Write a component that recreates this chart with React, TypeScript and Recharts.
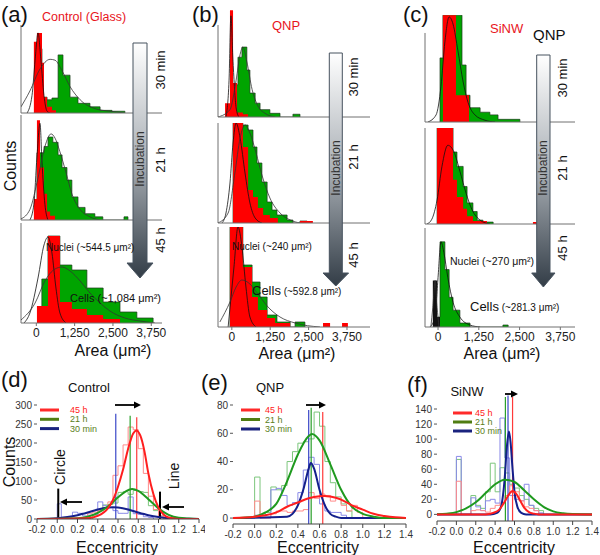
import React from "react";
import { ComposedChart, Area, Line, XAxis, YAxis, ReferenceLine } from "recharts";

type P = [number, number];
const FONT = '"Liberation Sans", Arial, sans-serif';

// ---- top row: cell / nucleus area histograms (area µm², relative counts) ----
const areaTicks = [0, 1250, 2500, 3750];

// (a) control glass
const glass30Red: P[] = [[-80, 0], [-80, 81], [20, 91], [185, 57], [250, 18], [350, 7], [510, 3], [640, 0]];
const glass30Green: P[] = [[20, 0], [20, 73], [185, 18], [350, 15], [510, 17], [710, 66], [870, 43], [1100, 18], [1360, 11], [1750, 7], [2080, 3], [2470, 2], [2890, 0]];
const glass30Fit1: P[] = [[-300, 0], [-140, 20], [-40, 60], [55, 91], [150, 60], [250, 20], [350, 2], [450, 0]];
const glass30Fit2: P[] = [[-500, 7], [-210, 25], [120, 50], [450, 61], [610, 60], [840, 48], [1100, 30], [1430, 15], [1910, 5], [2400, 2], [2890, 0]];

const glass21Red: P[] = [[-80, 0], [-80, 20], [20, 95], [120, 50], [250, 25], [350, 8], [450, 4], [610, 0]];
const glass21Green: P[] = [[20, 0], [20, 64], [250, 70], [380, 79], [540, 74], [710, 62], [840, 50], [1000, 38], [1160, 22], [1360, 12], [1590, 6], [1910, 3], [2170, 0], [2860, 0], [2860, 3], [2990, 0]];
const glass21Fit1: P[] = [[-210, 0], [-80, 15], [20, 60], [120, 92], [185, 55], [280, 15], [380, 0]];
const glass21Fit2: P[] = [[-500, 1], [-210, 10], [55, 40], [280, 70], [480, 82], [610, 78], [770, 65], [970, 45], [1160, 25], [1430, 10], [1750, 3], [2080, 0]];

const glass45Red: P[] = [[20, 0], [20, 17], [380, 87], [770, 21], [1160, 14], [1650, 8], [2180, 4], [2730, 0]];
const glass45Green: P[] = [[180, 0], [180, 44], [380, 87], [770, 58], [1160, 53], [1650, 35], [2180, 21], [2730, 11], [3280, 5], [3810, 0]];
const glass45Fit1: P[] = [[-400, 0], [-210, 10], [55, 45], [250, 78], [380, 86], [510, 70], [640, 35], [770, 10], [970, 0]];
const glass45Fit2: P[] = [[-500, 3], [-40, 20], [280, 42], [610, 54], [840, 56], [1100, 52], [1430, 42], [1750, 30], [2080, 20], [2400, 12], [2890, 5], [3380, 2], [3870, 0]];

// (b) QNP
const qnp30Red: P[] = [[-220, 0], [-220, 15], [-60, 116], [40, 37], [170, 5], [360, 3], [530, 0]];
const qnp30Green: P[] = [[40, 0], [40, 35], [200, 65], [330, 76], [490, 51], [590, 26], [760, 15], [920, 8], [1240, 4], [1570, 0], [1990, 0], [1990, 3], [2220, 0]];
const qnp30Fit1: P[] = [[-190, 0], [-90, 40], [-30, 110], [40, 60], [140, 10], [230, 0]];
const qnp30Fit2: P[] = [[-450, 0], [-60, 8], [140, 40], [270, 68], [360, 76], [490, 60], [660, 30], [850, 12], [1080, 4], [1410, 0]];

const qnp21Red: P[] = [[40, 0], [40, 100], [360, 76], [530, 33], [690, 26], [850, 15], [1020, 8], [1240, 5], [1500, 0], [2220, 0], [2220, 2], [2640, 0]];
const qnp21Green: P[] = [[40, 0], [40, 100], [360, 98], [530, 93], [690, 76], [820, 60], [980, 41], [1150, 21], [1310, 13], [1470, 8], [1800, 3], [1990, 0], [2220, 0], [2220, 2], [2450, 0]];
const qnp21Fit1: P[] = [[-320, 0], [-190, 10], [-60, 40], [40, 80], [140, 100], [270, 85], [430, 50], [590, 20], [760, 5], [980, 0]];
const qnp21Fit2: P[] = [[-450, 0], [-120, 10], [100, 50], [270, 85], [430, 98], [590, 90], [790, 70], [980, 48], [1240, 25], [1570, 10], [1900, 3], [2220, 0]];

const qnp45Red: P[] = [[-60, 0], [-60, 100], [360, 60], [660, 30], [850, 17], [1150, 9], [1410, 4], [1900, 0], [2970, 0], [2970, 4], [3200, 0], [3590, 0], [3590, 4], [3780, 0]];
const qnp45Green: P[] = [[-60, 0], [-60, 100], [360, 62], [660, 45], [920, 30], [1150, 12], [1470, 5], [1900, 0], [2060, 0], [2060, 5], [2380, 0]];
const qnp45Fit1: P[] = [[-120, 0], [70, 60], [200, 100], [330, 80], [460, 40], [590, 10], [790, 0]];
const qnp45Fit2: P[] = [[-390, 5], [-60, 25], [140, 40], [330, 47], [590, 43], [850, 33], [1180, 20], [1570, 10], [2060, 4], [2870, 0]];

// (c) SiNW
const sinw30Red: P[] = [[150, 0], [150, 120], [550, 30], [950, 0]];
const sinw30Green: P[] = [[60, 0], [60, 72], [150, 120], [735, 64], [860, 30], [980, 16], [1290, 11], [1590, 8], [1840, 3], [2510, 0]];
const sinw30Fit: P[] = [[-310, 0], [-60, 8], [90, 40], [210, 90], [340, 118], [460, 110], [610, 80], [770, 45], [920, 22], [1130, 8], [1440, 2], [1750, 0]];

const sinw21Red: P[] = [[-30, 0], [-30, 100], [460, 46], [580, 28], [770, 16], [890, 8], [1070, 3], [1500, 0], [2910, 0], [2910, 2], [3040, 0]];
const sinw21Green: P[] = [[-30, 0], [-30, 100], [460, 75], [580, 60], [770, 39], [890, 22], [1070, 13], [1200, 4], [1380, 2], [1690, 0]];
const sinw21Fit: P[] = [[-340, 0], [-190, 5], [-30, 25], [120, 60], [300, 82], [490, 75], [670, 55], [860, 32], [1040, 15], [1290, 4], [1590, 0]];

const sinw45Nuclei: P[] = [[-160, 0], [-160, 47], [-30, 10], [60, 0]];
const sinw45Green: P[] = [[-30, 0], [-30, 10], [60, 86], [210, 58], [340, 30], [460, 17], [670, 4], [980, 0], [1990, 0], [1990, 2], [2150, 0]];
const sinw45Fit1: P[] = [[-250, 0], [-90, 10], [0, 50], [90, 86], [180, 75], [300, 50], [460, 25], [670, 10], [980, 2], [1290, 0]];
const sinw45Fit2: P[] = [[-220, 0], [-160, 20], [-90, 47], [-30, 20], [30, 0]];

// ---- bottom row: eccentricity ----
const eccTicks = [-0.2, 0, 0.2, 0.4, 0.6, 0.8, 1.0, 1.2, 1.4];

const dHist45: P[] = [[0.3, 0], [0.3, 15], [0.35, 18], [0.4, 22], [0.45, 30], [0.5, 45], [0.55, 115], [0.6, 140], [0.65, 195], [0.7, 242], [0.75, 235], [0.8, 185], [0.85, 120], [0.9, 60], [0.95, 25], [1.0, 8], [1.05, 0]];
const dHist21: P[] = [[0.35, 0], [0.35, 10], [0.4, 25], [0.45, 37], [0.5, 38], [0.55, 42], [0.6, 70], [0.65, 72], [0.7, 65], [0.75, 75], [0.8, 72], [0.85, 70], [0.9, 35], [0.95, 22], [1.0, 8], [1.05, 0]];
const dHist30: P[] = [[0, 0], [0, 40], [0.04, 5], [0.1, 5], [0.15, 18], [0.2, 15], [0.25, 8], [0.3, 10], [0.35, 12], [0.4, 45], [0.45, 35], [0.5, 30], [0.55, 22], [0.6, 15], [0.65, 15], [0.7, 58], [0.75, 14], [0.8, 12], [0.85, 6], [0.9, 4], [0.95, 0]];
const dFit45: P[] = [[-0.2, 0], [0.3, 2], [0.4, 8], [0.5, 28], [0.55, 50], [0.6, 85], [0.65, 130], [0.7, 185], [0.75, 225], [0.78, 233], [0.82, 220], [0.86, 180], [0.9, 120], [0.95, 65], [1.0, 30], [1.05, 12], [1.1, 4], [1.2, 0], [1.4, 0]];
const dFit21: P[] = [[-0.2, 0], [0.2, 2], [0.3, 6], [0.4, 16], [0.5, 33], [0.6, 57], [0.7, 76], [0.74, 79], [0.8, 74], [0.9, 52], [1.0, 28], [1.1, 11], [1.2, 3], [1.3, 1], [1.4, 0]];
const dFit30: P[] = [[-0.2, 0], [0, 2], [0.1, 5], [0.2, 10], [0.3, 17], [0.4, 25], [0.5, 30], [0.55, 31], [0.6, 30], [0.7, 25], [0.8, 17], [0.9, 10], [1.0, 5], [1.1, 2], [1.2, 1], [1.4, 0]];
const dMeans = [{ x: 0.578, top: 277, c: "#3a48c8" }, { x: 0.72, top: 272, c: "#2aa02a" }, { x: 0.785, top: 268, c: "#ff3a3a" }];

const eHist45: P[] = [[0, 0], [0, 12], [0.05, 0], [0.15, 0], [0.15, 3], [0.2, 5], [0.3, 4], [0.35, 5], [0.45, 6], [0.5, 18], [0.55, 14], [0.6, 17], [0.65, 16], [0.7, 12], [0.75, 14], [0.8, 9], [0.85, 5], [0.9, 9], [0.95, 4], [1.0, 0]];
const eHist21: P[] = [[0, 0], [0, 29], [0.05, 2], [0.1, 4], [0.15, 22], [0.2, 20], [0.25, 23], [0.3, 40], [0.35, 47], [0.4, 53], [0.45, 54], [0.5, 56], [0.55, 75], [0.6, 65], [0.65, 40], [0.7, 25], [0.75, 15], [0.8, 10], [0.85, 5], [0.9, 0]];
const eHist30: P[] = [[0, 0], [0, 2], [0.05, 0], [0.15, 0], [0.15, 20], [0.2, 21], [0.25, 16], [0.3, 9], [0.35, 11], [0.4, 18], [0.45, 34], [0.5, 43], [0.55, 38], [0.6, 10], [0.65, 5], [0.7, 4], [0.8, 2], [0.85, 0]];
const eFit45: P[] = [[-0.2, 0], [0, 1], [0.1, 2], [0.2, 4], [0.3, 8], [0.4, 11], [0.5, 14], [0.6, 15.5], [0.65, 15.7], [0.7, 15.2], [0.8, 13], [0.9, 9], [1.0, 6], [1.1, 3], [1.2, 1.5], [1.3, 0.5], [1.4, 0]];
const eFit21: P[] = [[-0.2, 0], [0, 1], [0.1, 4], [0.2, 10], [0.3, 26], [0.4, 45], [0.5, 58], [0.53, 59.5], [0.6, 55], [0.7, 38], [0.8, 20], [0.9, 8], [1.0, 3], [1.1, 1], [1.2, 0], [1.4, 0]];
const eFit30: P[] = [[-0.2, 0], [0.3, 1], [0.35, 3], [0.4, 9], [0.45, 20], [0.5, 35], [0.52, 39], [0.55, 35], [0.6, 20], [0.65, 9], [0.7, 3], [0.75, 1], [0.8, 0], [1.4, 0]];
const eMeans = [{ x: 0.5, top: 76.5, c: "#3a48c8" }, { x: 0.523, top: 78, c: "#2aa02a" }, { x: 0.63, top: 75, c: "#ff3a3a" }];

const fHist45: P[] = [[0, 0], [0, 44], [0.05, 0], [0.15, 0], [0.15, 5], [0.2, 6], [0.25, 5], [0.3, 3], [0.35, 8], [0.4, 12], [0.45, 15], [0.5, 25], [0.55, 38], [0.6, 30], [0.65, 18], [0.7, 10], [0.75, 8], [0.8, 5], [0.85, 0]];
const fHist21: P[] = [[0, 0], [0, 73], [0.05, 0], [0.15, 0], [0.15, 25], [0.2, 12], [0.25, 8], [0.3, 30], [0.35, 68], [0.4, 30], [0.45, 62], [0.5, 55], [0.55, 40], [0.6, 35], [0.65, 25], [0.7, 20], [0.75, 12], [0.8, 8], [0.85, 5], [0.9, 0]];
const fHist30: P[] = [[0, 0], [0, 77], [0.05, 0], [0.15, 0], [0.15, 22], [0.2, 10], [0.25, 5], [0.3, 18], [0.35, 20], [0.4, 15], [0.45, 128], [0.5, 75], [0.55, 25], [0.6, 20], [0.65, 18], [0.7, 40], [0.75, 12], [0.8, 5], [0.85, 2], [0.9, 0]];
const fFit45: P[] = [[-0.2, 0], [0.3, 0], [0.38, 2], [0.44, 6], [0.5, 17], [0.55, 28], [0.58, 31], [0.62, 27], [0.66, 18], [0.7, 9], [0.75, 3], [0.8, 1], [0.85, 0], [1.4, 0]];
const fFit21: P[] = [[-0.2, 0], [-0.1, 1], [0, 3], [0.1, 8], [0.2, 16], [0.3, 28], [0.4, 40], [0.5, 46], [0.6, 43], [0.7, 32], [0.8, 20], [0.9, 10], [1.0, 4], [1.1, 1.5], [1.2, 0.5], [1.4, 0]];
const fFit30: P[] = [[-0.2, 0], [0.35, 0], [0.42, 2], [0.46, 10], [0.5, 50], [0.52, 88], [0.543, 110], [0.56, 95], [0.58, 60], [0.6, 30], [0.63, 10], [0.67, 2], [0.72, 0], [1.4, 0]];
const fMeans = [{ x: 0.506, top: 156, c: "#2aa02a" }, { x: 0.533, top: 158, c: "#3a48c8" }, { x: 0.58, top: 156, c: "#ff3a3a" }];

const rows = (p: P[]) => p.map(([x, y]) => ({ x, y }));

const FIT_RED = "#ff1e1e";
const FIT_GREEN = "#1f9a1f";
const FIT_BLUE = "#14208c";

// one small area histogram; plot = [left, top, right, baseline] in page px
function Hist({ plot, xDomain, yMax, green, red, redFill = "#ff0000", fits, labels = false }: any) {
  const [x0, y0, x1, y1] = plot;
  const axisH = labels ? 24 : 4;
  const extra = labels ? 16 : 1; // room for the last tick label
  return (
    <div style={{ position: "absolute", left: x0 - 1, top: y0 }}>
      <ComposedChart width={x1 - x0 + 1 + extra} height={y1 - y0 + axisH} margin={{ top: 0, right: extra, bottom: 0, left: 1 }}>
        <XAxis
          type="number"
          dataKey="x"
          domain={xDomain}
          allowDataOverflow
          ticks={areaTicks}
          interval={0}
          height={axisH}
          tickSize={3}
          tickMargin={2}
          stroke="#707070"
          tick={labels ? { fontSize: 12, fill: "#222", fontFamily: FONT } : false}
          tickFormatter={(v: number) => v.toLocaleString("en-US")}
        />
        <YAxis type="number" domain={[0, yMax]} allowDataOverflow hide />
        <ReferenceLine segment={[{ x: xDomain[0], y: 0 }, { x: xDomain[0], y: 100 }]} stroke="#707070" />
        <Area data={rows(green)} dataKey="y" type="stepAfter" fill="#00a400" fillOpacity={1} stroke="#1d3a1d" strokeWidth={0.7} isAnimationActive={false} />
        <Area data={rows(red)} dataKey="y" type="stepAfter" fill={redFill} fillOpacity={1} stroke="none" isAnimationActive={false} />
        {fits.map((f: P[], i: number) => (
          <Line key={i} data={rows(f)} dataKey="y" type="monotone" stroke={i === 0 ? "#111" : "#333"} strokeWidth={0.8} dot={false} isAnimationActive={false} />
        ))}
      </ComposedChart>
    </div>
  );
}

function Ecc({ left, top, width, height, margin, axisH, yWidth, yDomain, yTicks, hist, fit, means, marks = [] }: any) {
  return (
    <div style={{ position: "absolute", left, top }}>
      <ComposedChart width={width} height={height} margin={{ ...margin, left: 0 }}>
        <XAxis
          type="number"
          dataKey="x"
          domain={[-0.2, 1.4]}
          allowDataOverflow
          ticks={eccTicks}
          interval={0}
          height={axisH}
          tickSize={4}
          tickMargin={3}
          stroke="#444"
          tick={{ fontSize: 10, fill: "#333", fontFamily: FONT }}
          tickFormatter={(v: number) => v.toFixed(1)}
        />
        <YAxis
          type="number"
          domain={yDomain}
          allowDataOverflow
          ticks={yTicks}
          interval={0}
          width={yWidth}
          axisLine={false}
          tickSize={3}
          tickMargin={2}
          stroke="#555"
          tick={{ fontSize: 10, fill: "#333", fontFamily: FONT }}
        />
        <Line data={rows(hist[1])} dataKey="y" type="stepAfter" stroke="#7cc67c" strokeWidth={1} dot={false} isAnimationActive={false} />
        <Line data={rows(hist[2])} dataKey="y" type="stepAfter" stroke="#8a8ae8" strokeWidth={1} dot={false} isAnimationActive={false} />
        <Line data={rows(hist[0])} dataKey="y" type="stepAfter" stroke="#ff8a8a" strokeWidth={1} dot={false} isAnimationActive={false} />
        {means.map((m: any, i: number) => (
          <ReferenceLine key={i} segment={[{ x: m.x, y: yDomain[0] }, { x: m.x, y: m.top }]} stroke={m.c} strokeWidth={1.2} ifOverflow="visible" />
        ))}
        {marks.map((m: any, i: number) => (
          <ReferenceLine key={"m" + i} segment={[{ x: m.x, y: m.y0 }, { x: m.x, y: m.y1 }]} stroke="#000" strokeWidth={2} ifOverflow="visible" />
        ))}
        <Line data={rows(fit[2])} dataKey="y" type="monotone" stroke={FIT_BLUE} strokeWidth={2} dot={false} isAnimationActive={false} />
        <Line data={rows(fit[1])} dataKey="y" type="monotone" stroke={FIT_GREEN} strokeWidth={2} dot={false} isAnimationActive={false} />
        <Line data={rows(fit[0])} dataKey="y" type="monotone" stroke={FIT_RED} strokeWidth={2} dot={false} isAnimationActive={false} />
      </ComposedChart>
    </div>
  );
}

function HArrow({ x1, x2, y }: { x1: number; x2: number; y: number }) {
  const d = x2 > x1 ? 1 : -1;
  const hx = x2 - d * 7;
  return (
    <g>
      <line x1={x1} y1={y} x2={hx} y2={y} stroke="#000" strokeWidth={1.8} />
      <polygon points={`${x2},${y} ${hx},${y - 3.5} ${hx},${y + 3.5}`} fill="#000" />
    </g>
  );
}

function IncArrow({ x1, x2, top, headY, hx1, hx2, tip }: any) {
  const cx = (x1 + x2) / 2;
  return (
    <polygon
      points={`${x1},${top} ${x2},${top} ${x2},${headY} ${hx2},${headY} ${cx},${tip} ${hx1},${headY} ${x1},${headY}`}
      fill="url(#incGrad)"
      stroke="#46525e"
      strokeWidth={1}
    />
  );
}

function VText({ x, y, size, children, fill = "#111" }: any) {
  return (
    <text transform={`translate(${x},${y}) rotate(-90)`} textAnchor="middle" dominantBaseline="central" fontSize={size} fill={fill}>
      {children}
    </text>
  );
}

function Legend({ x, y, dy, tx }: { x: number; y: number; dy: number; tx: number }) {
  const items = [
    { t: "45 h", line: "#ff2a2a", text: "#ff2020" },
    { t: "21 h", line: "#4f7d12", text: "#5a7d1a" },
    { t: "30 min", line: "#1a237e", text: "#5a7d1a" },
  ];
  return (
    <g>
      {items.map((it, i) => (
        <g key={it.t}>
          <line x1={x} x2={x + 19} y1={y + i * dy} y2={y + i * dy} stroke={it.line} strokeWidth={3} />
          <text x={tx} y={y + i * dy + 3} fontSize={9} fill={it.text}>
            {it.t}
          </text>
        </g>
      ))}
    </g>
  );
}

export default function App() {
  const colA = [-500, 4100];
  const colB = [-450, 4500];
  const colC = [-400, 4200];
  return (
    <div style={{ position: "absolute", left: 0, top: 0, width: 600, height: 555, background: "#fff", fontFamily: FONT, overflow: "hidden" }}>
      <Hist plot={[21, 25, 162, 113]} xDomain={colA} yMax={100} green={glass30Green} red={glass30Red} fits={[glass30Fit1, glass30Fit2]} />
      <Hist plot={[21, 115, 162, 220]} xDomain={colA} yMax={100} green={glass21Green} red={glass21Red} fits={[glass21Fit1, glass21Fit2]} />
      <Hist plot={[21, 223, 162, 323]} xDomain={colA} yMax={100} green={glass45Green} red={glass45Red} fits={[glass45Fit1, glass45Fit2]} labels />

      <Hist plot={[218, 10, 370, 117]} xDomain={colB} yMax={116.3} green={qnp30Green} red={qnp30Red} fits={[qnp30Fit1, qnp30Fit2]} />
      <Hist plot={[218, 123, 370, 223]} xDomain={colB} yMax={100} green={qnp21Green} red={qnp21Red} fits={[qnp21Fit1, qnp21Fit2]} />
      <Hist plot={[218, 227, 370, 327]} xDomain={colB} yMax={100} green={qnp45Green} red={qnp45Red} fits={[qnp45Fit1, qnp45Fit2]} labels />

      <Hist plot={[425, 15, 575, 122]} xDomain={colC} yMax={120.2} green={sinw30Green} red={sinw30Red} fits={[sinw30Fit]} />
      <Hist plot={[425, 128, 575, 224]} xDomain={colC} yMax={100} green={sinw21Green} red={sinw21Red} fits={[sinw21Fit]} />
      <Hist plot={[425, 228, 575, 327]} xDomain={colC} yMax={100} green={sinw45Green} red={sinw45Nuclei} redFill="#111" fits={[sinw45Fit1, sinw45Fit2]} labels />

      <Ecc left={0} top={380} width={205} height={175} margin={{ top: 25, right: 6, bottom: 1 }} axisH={35} yWidth={37} yDomain={[0, 300]} yTicks={[0, 50, 100, 150, 200, 250, 300]}
        hist={[dHist45, dHist21, dHist30]} fit={[dFit45, dFit21, dFit30]} means={dMeans}
        marks={[{ x: 0.01, y0: 0, y1: 80 }, { x: 1.015, y0: 0, y1: 72 }]} />
      <Ecc left={195} top={380} width={225} height={175} margin={{ top: 25, right: 14, bottom: 1 }} axisH={30} yWidth={38} yDomain={[-4.2, 80]} yTicks={[0, 20, 40, 60, 80]}
        hist={[eHist45, eHist21, eHist30]} fit={[eFit45, eFit21, eFit30]} means={eMeans} />
      <Ecc left={395} top={380} width={205} height={175} margin={{ top: 29, right: 8, bottom: 1 }} axisH={33} yWidth={42} yDomain={[-8.8, 140]} yTicks={[0, 20, 40, 60, 80, 100, 120, 140]}
        hist={[fHist45, fHist21, fHist30]} fit={[fFit45, fFit21, fFit30]} means={fMeans} />

      <svg width={600} height={555} style={{ position: "absolute", left: 0, top: 0, pointerEvents: "none" }} fontFamily={FONT}>
        <defs>
          <linearGradient id="incGrad" x1="0" y1="0" x2="0" y2="1">
            <stop offset="0" stopColor="#ffffff" />
            <stop offset="0.5" stopColor="#a9afb5" />
            <stop offset="1" stopColor="#333d47" />
          </linearGradient>
        </defs>

        <text x={1} y={22} fontSize={22} fill="#111">(a)</text>
        <text x={192} y={22} fontSize={22} fill="#111">(b)</text>
        <text x={403} y={22} fontSize={22} fill="#111">(c)</text>
        <text x={1} y={387} fontSize={22} fill="#111">(d)</text>
        <text x={201} y={390} fontSize={22} fill="#111">(e)</text>
        <text x={407} y={392} fontSize={22} fill="#111">(f)</text>

        <text x={42} y={21} fontSize={12.5} fill="#e8141c">Control (Glass)</text>
        <text x={272} y={30} fontSize={13} fill="#e8141c">QNP</text>
        <text x={490} y={33} fontSize={13} fill="#e8141c">SiNW</text>
        <text x={533} y={40} fontSize={15} fill="#111">QNP</text>

        <VText x={10} y={166} size={16}>Counts</VText>

        <IncArrow x1={133} x2={147} top={43} headY={263} hx1={127} hx2={153} tip={278} />
        <IncArrow x1={329.3} x2={342.3} top={53} headY={273} hx1={323} hx2={348.6} tip={286} />
        <IncArrow x1={536.7} x2={550} top={55} headY={273} hx1={531.7} hx2={555} tip={287} />
        <VText x={140} y={159} size={12} fill="#333">Incubation</VText>
        <VText x={335.8} y={168} size={12} fill="#333">Incubation</VText>
        <VText x={543.3} y={168} size={12} fill="#333">Incubation</VText>

        <VText x={160} y={70} size={13}>30 min</VText>
        <VText x={160} y={160} size={13}>21 h</VText>
        <VText x={160} y={240} size={13}>45 h</VText>
        <VText x={353} y={77} size={13}>30 min</VText>
        <VText x={353} y={157} size={13}>21 h</VText>
        <VText x={353} y={255} size={13}>45 h</VText>
        <VText x={562} y={78} size={13}>30 min</VText>
        <VText x={562} y={168} size={13}>21 h</VText>
        <VText x={562} y={248} size={13}>45 h</VText>

        <text x={46} y={251} fontSize={10} fill="#111">Nuclei (~544.5 μm²)</text>
        <text x={70} y={302} fontSize={11} fill="#111">Cells (~1,084 μm²)</text>
        <text x={232} y={250} fontSize={10} fill="#111">Nuclei (~240 μm²)</text>
        <text x={252} y={295} fill="#111"><tspan fontSize={13}>Cells</tspan><tspan fontSize={10}> (~592.8 μm²)</tspan></text>
        <text x={450} y={265} fontSize={10.5} fill="#111">Nuclei (~270 μm²)</text>
        <text x={470} y={311} fill="#111"><tspan fontSize={13}>Cells</tspan><tspan fontSize={10}> (~281.3 μm²)</tspan></text>

        <text x={113} y={356} fontSize={16} textAnchor="middle" fill="#111">Area (μm²)</text>
        <text x={297} y={359} fontSize={16} textAnchor="middle" fill="#111">Area (μm²)</text>
        <text x={502} y={359} fontSize={16} textAnchor="middle" fill="#111">Area (μm²)</text>

        <text x={89} y={392} fontSize={13} textAnchor="middle" fill="#111">Control</text>
        <text x={270} y={392} fontSize={13} textAnchor="middle" fill="#111">QNP</text>
        <text x={467} y={396} fontSize={13} textAnchor="middle" fill="#111">SiNW</text>

        <VText x={9} y={462} size={16}>Counts</VText>
        <VText x={60} y={467} size={14}>Circle</VText>
        <VText x={174} y={476} size={14}>Line</VText>
        <text x={117} y={553} fontSize={16} textAnchor="middle" fill="#111">Eccentricity</text>
        <text x={318} y={553} fontSize={16} textAnchor="middle" fill="#111">Eccentricity</text>
        <text x={514} y={553} fontSize={16} textAnchor="middle" fill="#111">Eccentricity</text>

        <Legend x={40} y={410} dy={9.3} tx={70} />
        <Legend x={241} y={410} dy={9.5} tx={265} />
        <Legend x={453} y={413} dy={9} tx={475} />

        <HArrow x1={115} x2={141} y={405} />
        <HArrow x1={82} x2={60} y={502} />
        <HArrow x1={184} x2={162} y={507} />
        <HArrow x1={306} x2={326} y={405} />
        <HArrow x1={505} x2={518} y={394} />
      </svg>
    </div>
  );
}
